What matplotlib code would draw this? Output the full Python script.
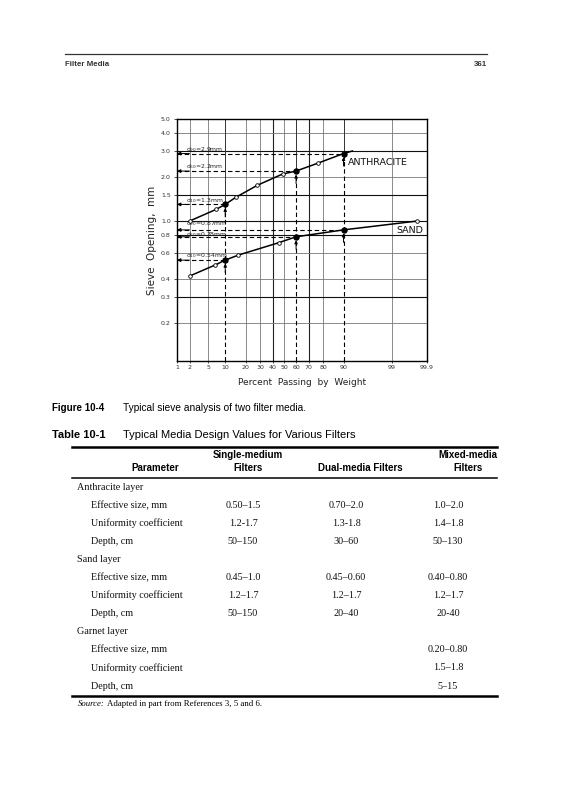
import numpy as np
import matplotlib
matplotlib.use("Agg")
import matplotlib.pyplot as plt
from matplotlib.lines import Line2D
from matplotlib.transforms import blended_transform_factory
from matplotlib.ticker import FixedLocator, NullLocator, FixedFormatter
from statistics import NormalDist

# ---------------- data ----------------
x_ticks = [1, 2, 5, 10, 20, 30, 40, 50, 60, 70, 80, 90, 99, 99.9]
x_tick_labels = ["1", "2", "5", "10", "20", "30", "40", "50", "60", "70", "80", "90", "99", "99.9"]
y_ticks = [0.2, 0.3, 0.4, 0.6, 0.8, 1.0, 1.5, 2.0, 3.0, 4.0, 5.0]
y_tick_labels = ["0.2", "0.3", "0.4", "0.6", "0.8", "1.0", "1.5", "2.0", "3.0", "4.0", "5.0"]

anth_obs_pct = [2, 6.9, 14.5, 28, 48.5, 77]
anth_obs_mm = [1.0, 1.2, 1.45, 1.76, 2.1, 2.5]
anth_end_pct = [93]
anth_end_mm = [3.02]
sand_obs_pct = [2, 6.7, 16, 45, 99.8]
sand_obs_mm = [0.42, 0.5, 0.585, 0.71, 1.0]

d_pct = [10, 60, 90]
d_names = ["10", "60", "90"]
anth_d_mm = [1.3, 2.2, 2.9]
sand_d_mm = [0.54, 0.78, 0.87]

table_params = ["Anthracite layer", "Effective size, mm", "Uniformity coefficient", "Depth, cm",
                "Sand layer", "Effective size, mm", "Uniformity coefficient", "Depth, cm",
                "Garnet layer", "Effective size, mm", "Uniformity coefficient", "Depth, cm"]
table_single = ["", "0.50\u20131.5", "1.2-1.7", "50\u2013150", "", "0.45\u20131.0", "1.2\u20131.7", "50\u2013150",
                "", "", "", ""]
table_dual = ["", "0.70\u20132.0", "1.3-1.8", "30\u201360", "", "0.45\u20130.60", "1.2\u20131.7", "20\u201340",
              "", "", "", ""]
table_mixed = ["", "1.0\u20132.0", "1.4\u20131.8", "50\u2013130", "", "0.40\u20130.80", "1.2\u20131.7", "20-40",
               "", "0.20\u20130.80", "1.5\u20131.8", "5\u201315"]
table_is_group = [True, False, False, False, True, False, False, False, True, False, False, False]

# ---------------- figure ----------------
W, H = 565, 800
fig = plt.figure(figsize=(W / 100, H / 100), dpi=100)
fig.patch.set_facecolor("white")


def fx(x):
    return x / W


def fy(y):
    return 1 - y / H


nd = NormalDist()


def prob_fwd(p):
    p = np.clip(np.asarray(p, dtype=float), 1e-4, 100 - 1e-4) / 100.0
    return np.vectorize(nd.inv_cdf, otypes=[float])(p)


def prob_inv(z):
    z = np.asarray(z, dtype=float)
    return np.vectorize(nd.cdf, otypes=[float])(z) * 100.0


ax_l, ax_r, ax_t, ax_b = 177, 427, 119, 361
ax = fig.add_axes([fx(ax_l), fy(ax_b), (ax_r - ax_l) / W, (ax_b - ax_t) / H])
ax.set_xscale("function", functions=(prob_fwd, prob_inv))
ax.set_yscale("log")
ax.set_xlim(1, 99.9)
ax.set_ylim(0.11, 5.0)

ax.xaxis.set_major_locator(FixedLocator(x_ticks))
ax.xaxis.set_major_formatter(FixedFormatter(x_tick_labels))
ax.xaxis.set_minor_locator(NullLocator())
ax.yaxis.set_major_locator(FixedLocator(y_ticks))
ax.yaxis.set_major_formatter(FixedFormatter(y_tick_labels))
ax.yaxis.set_minor_locator(NullLocator())
ax.tick_params(axis="both", labelsize=4.5, colors="#333333", length=2.5, width=0.6, pad=2)
ax.tick_params(axis="x", length=1.5, pad=1.5)
for s in ax.spines.values():
    s.set_color("black")
    s.set_linewidth(1.0)

# grid lines (probability paper look)
dark_v = [40, 70]
for p in x_ticks[1:-1]:
    if p in d_pct:
        continue
    ax.axvline(p, color="#222222" if p in dark_v else "#777777",
               lw=0.8 if p in dark_v else 0.6, zorder=1)
dark_h = [0.3, 0.8, 1.0, 1.5, 3.0]
for v in y_ticks[:-1]:
    ax.axhline(v, color="#111111" if v in dark_h else "#777777",
               lw=0.8 if v in dark_h else 0.6, zorder=1)

ymin = ax.get_ylim()[0]
ytop = ax.get_ylim()[1]
blend = blended_transform_factory(ax.transAxes, ax.transData)

# vertical construction lines at d10, d60, d90
for p, va_, vs_ in zip(d_pct, anth_d_mm, sand_d_mm):
    ax.plot([p, p], [va_, ytop], color="#333333", lw=0.7, zorder=1)
    ax.plot([p, p], [ymin, va_], color="black", lw=0.8, ls=(0, (4, 2.5)), zorder=2)

# label offsets above the construction line (points)
label_offset = {("sand", "90"): 4.4, ("sand", "60"): 1.9}

# horizontal construction lines with arrows and labels
for key, series in (("anth", anth_d_mm), ("sand", sand_d_mm)):
    for p, v, n in zip(d_pct, series, d_names):
        ax.plot([1, p], [v, v], color="black", lw=0.8, ls=(0, (4, 2.5)), zorder=2)
        ax.annotate("", xy=(0, v), xycoords=blend, xytext=(9, 0), textcoords="offset points",
                    arrowprops=dict(arrowstyle="-|>", color="black", lw=0.7,
                                    mutation_scale=5, shrinkA=0, shrinkB=0), zorder=3)
        off = label_offset.get((key, n), 3.0)
        ax.annotate("d$_{%s}$=%smm" % (n, ("%g" % v)), xy=(0.035, v), xycoords=blend,
                    xytext=(0, off), textcoords="offset points", fontsize=4.4,
                    color="#222222", ha="left", va="center", zorder=3)
        ax.annotate("", xy=(p, v), xycoords="data", xytext=(0, -9), textcoords="offset points",
                    arrowprops=dict(arrowstyle="-|>", color="black", lw=0.7,
                                    mutation_scale=4.5, shrinkA=0, shrinkB=2.5), zorder=3)

# curves
a_pct = anth_obs_pct + d_pct + anth_end_pct
a_mm = anth_obs_mm + anth_d_mm + anth_end_mm
order = np.argsort(a_pct)
ax.plot(np.array(a_pct)[order], np.array(a_mm)[order], color="black", lw=1.1, zorder=4)
s_pct = sand_obs_pct + d_pct
s_mm = sand_obs_mm + sand_d_mm
order = np.argsort(s_pct)
ax.plot(np.array(s_pct)[order], np.array(s_mm)[order], color="black", lw=1.1, zorder=4)

ax.plot(anth_obs_pct, anth_obs_mm, "o", ms=2.6, mfc="white", mec="black", mew=0.6, zorder=5)
ax.plot(sand_obs_pct, sand_obs_mm, "o", ms=2.6, mfc="white", mec="black", mew=0.6, zorder=5)
ax.plot(d_pct, anth_d_mm, "o", ms=3.6, color="black", zorder=6)
ax.plot(d_pct, sand_d_mm, "o", ms=3.6, color="black", zorder=6)

ax.text(0.685, 2.5, "ANTHRACITE", transform=blend, fontsize=6.8, color="#111111",
        ha="left", va="center", zorder=6)
ax.text(0.985, 0.86, "SAND", transform=blend, fontsize=6.8, color="#111111",
        ha="right", va="center", zorder=6)

ax.set_xlabel("Percent  Passing  by  Weight", fontsize=6.5, color="#222222", labelpad=6)
ax.set_ylabel("Sieve  Opening,  mm", fontsize=7.5, color="#222222", labelpad=3)

# ---------------- page furniture ----------------
fig.add_artist(Line2D([fx(65), fx(487)], [fy(54), fy(54)], color="#333333", lw=0.9))
fig.text(fx(65), fy(64), "Filter Media", fontsize=5.7, fontweight="bold", color="#333333",
         ha="left", va="center", family="Liberation Sans")
fig.text(fx(487), fy(64), "361", fontsize=5.7, fontweight="bold", color="#333333",
         ha="right", va="center", family="Liberation Sans")

fig.text(fx(52), fy(408), "Figure 10-4", fontsize=7, fontweight="bold", ha="left", va="center",
         family="Liberation Sans")
fig.text(fx(123), fy(408), "Typical sieve analysis of two filter media.", fontsize=7.3,
         ha="left", va="center", family="Liberation Sans")
fig.text(fx(52), fy(435), "Table 10-1", fontsize=8, fontweight="bold", ha="left", va="center",
         family="Liberation Sans")
fig.text(fx(123), fy(435), "Typical Media Design Values for Various Filters", fontsize=8,
         ha="left", va="center", family="Liberation Sans")

fig.add_artist(Line2D([fx(72), fx(497)], [fy(447), fy(447)], color="black", lw=1.8))
fig.add_artist(Line2D([fx(72), fx(497)], [fy(478), fy(478)], color="black", lw=1.1))
fig.add_artist(Line2D([fx(72), fx(497)], [fy(696), fy(696)], color="black", lw=1.8))

hdr = dict(fontsize=7, fontweight="bold", ha="center", va="center", family="Liberation Sans")
fig.text(fx(155), fy(468), "Parameter", **hdr)
fig.text(fx(248), fy(455), "Single-medium", **hdr)
fig.text(fx(248), fy(468), "Filters", **hdr)
fig.text(fx(360), fy(468), "Dual-media Filters", **hdr)
fig.text(fx(468), fy(455), "Mixed-media", **hdr)
fig.text(fx(468), fy(468), "Filters", **hdr)

body = dict(fontsize=7.3, va="center", family="Liberation Serif", color="#111111")
row_y0, row_dy = 487, 18.1
for i, (pname, s1, s2, s3, grp) in enumerate(zip(table_params, table_single, table_dual,
                                                    table_mixed, table_is_group)):
    y = fy(row_y0 + i * row_dy)
    fig.text(fx(77 if grp else 91), y, pname, ha="left", **body)
    fig.text(fx(243), y, s1, ha="center", **body)
    fig.text(fx(346), y, s2, ha="center", **body)
    fig.text(fx(448), y, s3, ha="center", **body)

fig.text(fx(78), fy(704), "Source:", fontsize=6.3, style="italic", ha="left", va="center",
         family="Liberation Serif")
fig.text(fx(107), fy(704), "Adapted in part from References 3, 5 and 6.", fontsize=6.3,
         ha="left", va="center", family="Liberation Serif")

fig.savefig("out.png", dpi=100, facecolor="white")
